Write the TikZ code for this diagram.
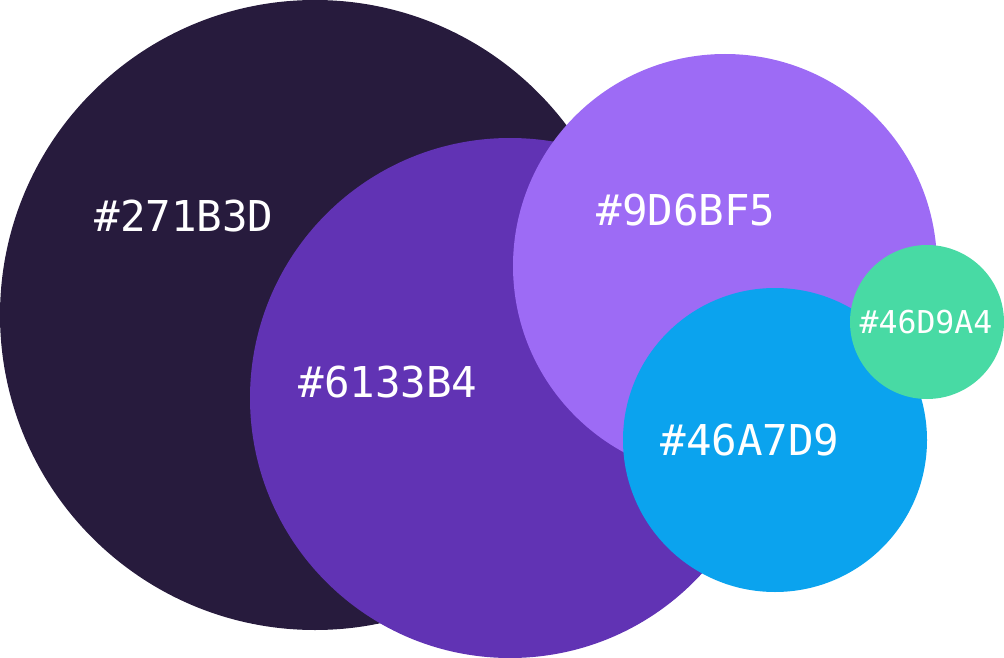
\documentclass[tikz,border=0pt]{standalone}
\usepackage{fontspec}
\setmonofont{DejaVu Sans Mono}
\definecolor{cdark}{HTML}{271B3D}
\definecolor{cpurple}{HTML}{6133B4}
\definecolor{clilac}{HTML}{9D6BF5}
\definecolor{cblue}{HTML}{0BA3EE}
\definecolor{cgreen}{HTML}{48DAA4}
\begin{document}
\begin{tikzpicture}[x=1pt, y=-1pt, every node/.style={inner sep=0pt, outer sep=0pt}]
		\tikzstyle{bubble} = [circle, draw=none]
		\tikzstyle{hexlabel} = [anchor=base, text=white, font=\ttfamily\fontsize{42.5}{50}\selectfont]
		\tikzstyle{hexsmall} = [anchor=base, text=white, font=\ttfamily\fontsize{31.5}{38}\selectfont]
		
		\useasboundingbox (0,0) rectangle (1004,658);
		
		\node[bubble, fill=cdark, minimum size=630pt] (dark) at (315,315) {};
		\node[bubble, fill=cpurple, minimum size=520pt] (purple) at (510,398) {};
		\node[bubble, fill=clilac, minimum size=424pt] (lilac) at (725,266) {};
		\node[bubble, fill=cblue, minimum size=304pt] (blue) at (775,440) {};
		\node[bubble, fill=cgreen, minimum size=154pt] (green) at (927,322) {};
		
		\node[hexlabel] (darklabel) at (184,231) {\#271B3D};
		\node[hexlabel] (purplelabel) at (388,397) {\#6133B4};
		\node[hexlabel] (lilaclabel) at (686,225) {\#9D6BF5};
		\node[hexlabel] (bluelabel) at (750,455) {\#46A7D9};
		\node[hexsmall] (greenlabel) at (926,333) {\#46D9A4};
	\end{tikzpicture}
\end{document}
